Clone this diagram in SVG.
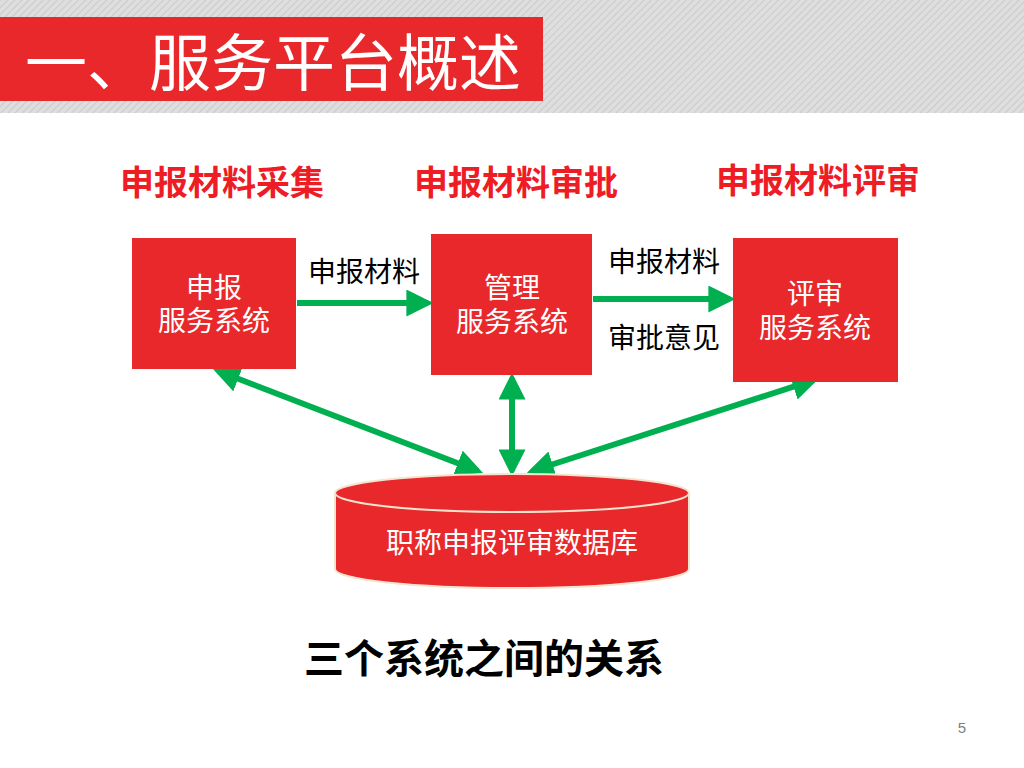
<svg xmlns="http://www.w3.org/2000/svg" width="1024" height="768" viewBox="0 0 1024 768">
<style>
.box{fill:#e8282b}
.wt{fill:#ffffff;font-family:"Liberation Sans","Noto Sans CJK SC",sans-serif;font-size:28px;text-anchor:middle}
.bk{fill:#000000;font-family:"Liberation Sans","Noto Sans CJK SC",sans-serif;font-size:28px;text-anchor:middle}
.hd{fill:#ee1c25;font-family:"Liberation Sans","Noto Sans CJK SC",sans-serif;font-size:34px;font-weight:bold;text-anchor:middle}
.conn{stroke:#00b050;stroke-width:6;fill:none}
</style>
<defs>
<pattern id="hatch" width="5" height="5" patternUnits="userSpaceOnUse" patternTransform="rotate(45)">
<rect width="5" height="5" fill="#dedede"/>
<line x1="0" y1="0" x2="0" y2="5" stroke="#c4c4c4" stroke-width="1.5"/>
</pattern>
<marker id="ah" viewBox="0 0 10 10" refX="8" refY="5" markerWidth="4.5" markerHeight="4.5" orient="auto-start-reverse" markerUnits="strokeWidth">
<path d="M0,0 L10,5 L0,10 z" fill="#00b050"/>
</marker>
</defs>
<rect width="1024" height="768" fill="#ffffff"/>
<g id="header">
<rect x="0" y="0" width="1024" height="113" fill="url(#hatch)"/>
<rect x="0" y="17" width="543" height="84" fill="#e8282b"/>
<text x="25" y="86" fill="#ffffff" font-family="Liberation Sans,'Noto Sans CJK SC',sans-serif" font-size="62">一、服务平台概述</text>
</g>
<g id="heading1"><text class="hd" x="222" y="195">申报材料采集</text></g>
<g id="heading2"><text class="hd" x="516" y="195">申报材料审批</text></g>
<g id="heading3"><text class="hd" x="818" y="193">申报材料评审</text></g>
<g id="connectors">
<line class="conn" x1="297" y1="303" x2="428" y2="303" marker-end="url(#ah)"/>
<line class="conn" x1="593" y1="299" x2="730" y2="299" marker-end="url(#ah)"/>
<line class="conn" x1="218" y1="371" x2="478" y2="471" marker-start="url(#ah)" marker-end="url(#ah)"/>
<line class="conn" x1="512" y1="378" x2="512" y2="471" marker-start="url(#ah)" marker-end="url(#ah)"/>
<line class="conn" x1="814" y1="380" x2="532" y2="471" marker-start="url(#ah)" marker-end="url(#ah)"/>
<text class="bk" x="364" y="282">申报材料</text>
<text class="bk" x="664" y="272">申报材料</text>
<text class="bk" x="664" y="348">审批意见</text>
</g>
<g id="node-shenbao">
<rect class="box" x="132" y="238" width="164" height="131"/>
<text class="wt" x="214" y="298">申报</text>
<text class="wt" x="214" y="331">服务系统</text>
</g>
<g id="node-guanli">
<rect class="box" x="431" y="234" width="161" height="141"/>
<text class="wt" x="512" y="298">管理</text>
<text class="wt" x="512" y="332">服务系统</text>
</g>
<g id="node-pingshen">
<rect class="box" x="733" y="238" width="165" height="144"/>
<text class="wt" x="815" y="304">评审</text>
<text class="wt" x="815" y="338">服务系统</text>
</g>
<g id="node-db">
<path d="M335,493 L335,569 A177,19 0 0 0 689,569 L689,493" fill="#e8282b" stroke="#f3e3cf" stroke-width="2"/>
<ellipse cx="512" cy="493" rx="177" ry="19" fill="#e8282b" stroke="#f3e3cf" stroke-width="2"/>
<text class="wt" x="512" y="553">职称申报评审数据库</text>
</g>
<g id="caption"><text x="484" y="673" fill="#000000" font-family="Liberation Sans,'Noto Sans CJK SC',sans-serif" font-size="40" font-weight="bold" text-anchor="middle">三个系统之间的关系</text></g>
<text x="962" y="733" fill="#7f7f7f" font-family="Liberation Sans,'Noto Sans CJK SC',sans-serif" font-size="15" text-anchor="middle">5</text>
</svg>
